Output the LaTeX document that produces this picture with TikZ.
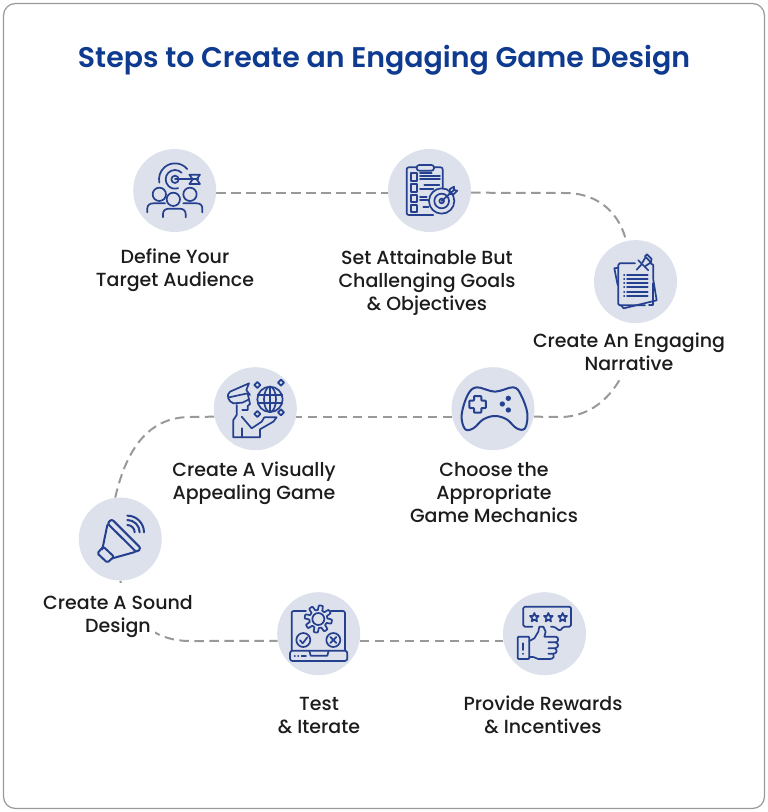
\documentclass[tikz,border=0pt]{standalone}
\usepackage{fontspec}
\setmainfont{Poppins Medium}
\newfontfamily\titlefont{Poppins SemiBold}
\usetikzlibrary{backgrounds}
\definecolor{ink}{HTML}{24408F}
\definecolor{disc}{HTML}{DDE1EB}
\definecolor{titleblue}{HTML}{0E3A8F}
\definecolor{dashgray}{HTML}{999999}
\definecolor{labelink}{HTML}{1C1C1C}
\tikzset{
 stepdisc/.style={circle,fill=disc,minimum size=83pt,inner sep=0pt},
 steplabel/.style={align=center,text=labelink,inner sep=0pt,font=\fontsize{19}{23}\selectfont},
 link/.style={draw=dashgray,line width=2pt,dash pattern=on 9.5pt off 5.5pt},
 iconline/.style={draw=ink,line width=1.7pt,line join=round,line cap=round,fill=none},
 icon/.style={shift={#1},x=.3333pt,y=-.3333pt,iconline},
}
\begin{document}
\begin{tikzpicture}[x=1pt,y=-1pt]
\useasboundingbox (0,0) rectangle (768,812);
\draw[draw=dashgray,line width=1.2pt,rounded corners=12pt] (3.5,3.5) rectangle (764.5,808.5);
\node[text=titleblue,inner sep=0pt,font=\titlefont\fontsize{28.4}{34}\selectfont] (title) at (384,60) {Steps to Create an Engaging Game Design};
% labels
\node[steplabel] (la) at (175,270.5) {Define Your\\Target Audience};
\node[steplabel] (lb) at (427,283) {Set Attainable But\\Challenging Goals\\\&{} Objectives};
\node[steplabel] (lc) at (629,351.5) {Create An Engaging\\Narrative};
\node[steplabel] (ld) at (494,493) {Choose the\\Appropriate\\Game Mechanics};
\node[steplabel] (le) at (254,483) {Create A Visually\\Appealing Game};
\node[steplabel] (lf) at (118,616.5) {Create A Sound\\Design};
\node[steplabel] (lg) at (319,716) {Test\\\&{} Iterate};
\node[steplabel] (lh) at (543,715) {Provide Rewards\\\&{} Incentives};
% discs
\node[stepdisc] (a) at (174.7,190.5) {};
\node[stepdisc] (b) at (429.5,190.5) {};
\node[stepdisc] (c) at (635.5,281.6) {};
\node[stepdisc] (d) at (493,408.7) {};
\node[stepdisc] (e) at (255.3,408.7) {};
\node[stepdisc] (f) at (120.3,539) {};
\node[stepdisc] (g) at (318.7,633.7) {};
\node[stepdisc] (h) at (544.5,633.7) {};
% connectors
\begin{pgfonlayer}{background}
\draw[link] (a.-3.5) -- (b.183.5);
\draw[link] (b.-3.5) -- (565,193) .. controls (600,193) and (620,215) .. (c.103);
\draw[link] (c.270) .. controls (635,360) and (612,417) .. (560,417) -- (d.-11.5);
\draw[link] (d.191.5) -- (e.-11.5);
\draw[link] (e.191.5) -- (190,417) .. controls (145,417) and (125,455) .. (f.97);
\draw[link] (f.270) .. controls (128,615) and (150,641) .. (190,641) -- (g.190);
\draw[link] (g.-10) -- (h.190);
\fill[white] (530,320) rectangle (726,376);
\fill[white] (40,583) rectangle (155,636);
\end{pgfonlayer}
% icon 1: target audience
\begin{scope}[icon={(120,140)}]
\draw (165,118) circle[radius=11];
\draw (165,118) ++(-45:28) arc[start angle=-45,end angle=-290,radius=28];
\draw (165,118) ++(-40:48) arc[start angle=-40,end angle=-192,radius=48];
\draw (165,118) -- (235,118);
\draw (208,104) -- (240,104) -- (230,118) -- (240,132) -- (208,132) -- (218,118) -- cycle;
\draw (118,163) circle[radius=20];
\draw (210,163) circle[radius=20];
\draw (160,178) circle[radius=20];
\draw (82,217) -- (82,205) .. controls (82,195) and (90,190) .. (100,190) -- (135,190);
\draw (247,217) -- (247,205) .. controls (247,195) and (240,190) .. (230,190) -- (190,190);
\draw (129,232) -- (129,222) .. controls (129,210) and (138,206) .. (148,206) -- (178,206) .. controls (190,206) and (197,212) .. (197,222) -- (197,232);
\end{scope}
% icon 2: goals
\begin{scope}[icon={(380,140)}]
\draw[rounded corners=2pt] (110,82) -- (80,82) -- (80,225) -- (160,225);
\draw[rounded corners=2pt] (162,82) -- (188,82) -- (188,146);
\draw[rounded corners=2.5pt] (110,75) rectangle (162,92);
\draw (92,100) rectangle (110,122);
\draw (92,133) rectangle (110,155);
\draw (92,165) rectangle (110,187);
\draw (92,195) rectangle (110,215);
\draw (120,98) -- (155,98);
\draw (120,108) -- (180,108);
\draw (120,118) -- (180,118);
\draw (133,136) -- (178,136);
\draw (120,148) -- (160,148);
\draw (120,170) -- (140,170);
\draw (120,180) -- (145,180);
\draw (130,200) -- (145,200);
\draw (185,183) circle[radius=38];
\draw (185,183) circle[radius=22];
\draw (185,183) circle[radius=7];
\draw (185,183) -- (222,150);
\draw (208,162) -- (210,147) -- (222,140) -- (222,150) -- (232,152) -- (222,162) -- cycle;
\end{scope}
% icon 3: narrative
\begin{scope}[icon={(585,235)}]
\draw (150,85) -- (104,85) -- (100,90) -- (100,207) -- (104,211) -- (180,211);
\draw (192,211) -- (205,211) -- (205,145);
\draw (205,133) -- (205,90) -- (197,85);
\draw (100,98) -- (88,100) -- (98,150);
\draw (108,211) -- (116,220) -- (215,196) -- (205,135);
\foreach \yy in {120,132,144,157,170,183} {
  \draw (126,\yy) -- (188,\yy);
  \draw (117,\yy) -- (118,\yy);
}
\draw (155,104) -- (170,88);
\draw (160,76) -- (190,106);
\draw (172,83) -- (182,66) -- (198,82) -- (180,94);
\draw (180,64) -- (186,58) -- (200,72) -- (198,80);
\end{scope}
% icon 4: visual
\begin{scope}[icon={(205,360)}]
\draw (195,118) circle[radius=38];
\draw (195,118) ellipse[x radius=18,y radius=38];
\draw (195,80) -- (195,156);
\draw (158,105) -- (232,105);
\draw (158,130) -- (232,130);
\foreach \cx/\cy in {157/75,228/68,157/162,228/157} {
  \draw (\cx-9,\cy) -- (\cx,\cy-9) -- (\cx+9,\cy) -- (\cx,\cy+9) -- cycle;
}
\draw (85,130) .. controls (70,125) and (62,105) .. (75,95) -- (132,70) -- (124,90) -- (135,105);
\draw (72,112) -- (128,100) -- (132,118) -- (112,128) -- (85,130);
\draw (132,118) -- (135,132) -- (128,138) -- (128,150) -- (112,150);
\draw (95,135) -- (95,165) -- (85,180) -- (85,232) -- (165,232) -- (165,208) -- (205,185) -- (215,172) -- (178,172) -- (170,185) -- (140,205) -- (110,170);
\draw (110,205) -- (110,232);
\end{scope}
% icon 5: controller
\begin{scope}[icon={(445,360)}]
\draw[line width=2pt] plot[smooth cycle,tension=.6] coordinates {(95,82) (150,95) (205,82) (228,105) (247,160) (240,205) (215,205) (185,178) (150,168) (115,178) (85,205) (60,207) (50,165) (68,105)};
\draw[rounded corners=.8pt,line width=2pt] (87,108) -- (109,108) -- (109,122) -- (123,122) -- (123,144) -- (109,144) -- (109,158) -- (87,158) -- (87,144) -- (73,144) -- (73,122) -- (87,122) -- cycle;
\fill[ink,draw=none] (190,115) circle[radius=8];
\fill[ink,draw=none] (172,132) circle[radius=8];
\fill[ink,draw=none] (190,150) circle[radius=8];
\end{scope}
% icon 6: megaphone
\begin{scope}[icon={(70,490)}]
\draw[line width=2pt,rounded corners=2.5pt] (125,87) -- (213,175) -- (200,187) -- (112,100) -- cycle;
\draw[line width=2pt] (112,105) -- (97,178);
\draw[line width=2pt] (195,186) -- (127,205);
\draw[line width=2pt,rounded corners=1.5pt] (100,170) -- (132,200) -- (112,218) -- (82,190) -- cycle;
\draw[line width=2pt] (172,127) ++(0,-22) arc[start angle=-90,end angle=0,radius=22];
\draw[line width=2pt] (172,127) ++(0,-37) arc[start angle=-90,end angle=0,radius=37];
\draw[line width=2pt] (172,127) ++(0,-50) arc[start angle=-90,end angle=0,radius=50];
\end{scope}
% icon 7: test
\begin{scope}[icon={(270,585)}]
\draw[rounded corners=2pt] (108,78) -- (65,78) -- (65,196);
\draw[rounded corners=2pt] (182,78) -- (225,78) -- (225,196);
\draw[rounded corners=2.5pt] (60,197) rectangle (232,228);
\draw (118,197) -- (122,212) -- (172,212) -- (176,197);
\draw (74,212) -- (75,212);
\draw (84,212) -- (85,212);
\draw (95,212) -- (108,212);
\draw (145,102) circle[radius=18];
\draw plot[domain=0:360,samples=145] ({145+(34+7*max(-1,min(1,2.5*sin(8*\x))))*cos(\x)},{102+(34+7*max(-1,min(1,2.5*sin(8*\x))))*sin(\x)});
\draw (100,165) circle[radius=21];
\draw (90,166) -- (98,175) -- (112,157);
\draw (190,165) circle[radius=21];
\draw (181,156) -- (199,174);
\draw (199,156) -- (181,174);
\end{scope}
% icon 8: rewards
\begin{scope}[icon={(495,585)}]
\draw[rounded corners=1.5pt] (112,125) -- (85,125) -- (85,65) -- (228,65) -- (228,125) -- (205,125) -- (195,138) -- (178,125) -- (168,125);
\foreach \cx in {118,160,203} {
  \draw plot coordinates {
   (\cx,97-13) (\cx+4,97-4) (\cx+13,97-4) (\cx+6,97+3) (\cx+8,97+12) (\cx,97+7) (\cx-8,97+12) (\cx-6,97+3) (\cx-13,97-4) (\cx-4,97-4) (\cx,97-13)};
}
\draw[rounded corners=1pt] (68,155) rectangle (103,222);
\draw (85,175) -- (85,195);
\draw (85,206) -- (85,207);
\draw (103,168) -- (118,160) -- (130,140) -- (133,125) -- (145,125) -- (152,140) -- (148,155) -- (182,155) .. controls (192,155) and (192,172) .. (182,172) -- (160,172);
\draw (182,172) .. controls (192,175) and (192,188) .. (180,190) -- (160,190);
\draw (180,190) .. controls (188,195) and (186,206) .. (175,206) -- (160,206);
\draw (175,206) .. controls (180,212) and (176,222) .. (165,222) -- (130,222) -- (115,216) -- (103,216);
\end{scope}
\end{tikzpicture}
\end{document}
